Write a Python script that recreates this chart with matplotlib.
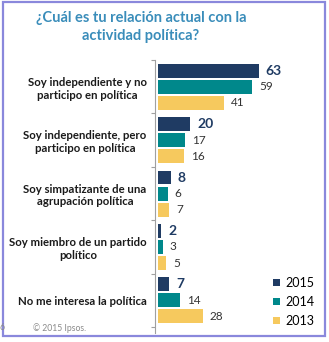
import numpy as np
import matplotlib.pyplot as plt
from matplotlib.patches import Rectangle


# ==========================================================
# DATOS
# ==========================================================

categorias = [
    "Soy independiente y no\nparticipo en política",
    "Soy independiente, pero\nparticipo en política",
    "Soy simpatizante de una\nagrupación política",
    "Soy miembro de un partido\npolítico",
    "No me interesa la política",
]

anios = ["2015", "2014", "2013"]

valores_2015 = [63, 20, 8, 2, 7]
valores_2014 = [59, 17, 6, 3, 14]
valores_2013 = [41, 16, 7, 5, 28]

colores = ["#1f3b63", "#00888b", "#f6c95e"]

titulo = "¿Cuál es tu relación actual con la\nactividad política?"


# ==========================================================
# FIGURA
# ==========================================================

plt.rcParams["font.family"] = ["Lato", "DejaVu Sans"]

fig = plt.figure(figsize=(3.29, 3.42), dpi=100)

ax = fig.add_axes([155 / 329, 9 / 342, 165 / 329, 273 / 342])

y = np.arange(len(categorias))

desplaz = 0.30
alto = 0.26

series = [valores_2015, valores_2014, valores_2013]

barras = []

for k, (vals, col, anio) in enumerate(zip(series, colores, anios)):

    b = ax.barh(
        y + (k - 1) * desplaz,
        vals,
        height=alto,
        color=col,
        label=anio
    )

    barras.append(b)

# etiquetas de valor
ax.bar_label(
    barras[0],
    padding=5,
    fontsize=10,
    fontweight="bold",
    color="#1f3b63"
)

for b in barras[1:]:

    ax.bar_label(
        b,
        padding=5,
        fontsize=8.5,
        color="#333333"
    )

ax.set_xlim(-1.9, 101.2)
ax.set_ylim(4.61, -0.5)

ax.set_yticks(y)
ax.set_yticklabels(
    categorias,
    fontsize=8.2,
    fontweight="bold",
    color="#1a1a1a"
)

for t in ax.get_yticklabels():
    t.set_multialignment("center")

ax.tick_params(axis="y", which="major", length=0, pad=6)

ax.set_yticks(np.arange(-0.5, 5.0, 1.0), minor=True)
ax.tick_params(
    axis="y",
    which="minor",
    length=3,
    color="#a0a0a0",
    width=0.8
)

ax.set_xticks([])

for lado in ["top", "right", "bottom"]:
    ax.spines[lado].set_visible(False)

ax.spines["left"].set_color("#a0a0a0")
ax.spines["left"].set_linewidth(0.8)

# leyenda
ax.legend(
    loc="lower left",
    bbox_to_anchor=(112 / 165, 0.0),
    frameon=False,
    fontsize=9,
    handlelength=0.55,
    handleheight=0.55,
    handletextpad=0.4,
    labelspacing=0.55,
    borderaxespad=0.1
)

# titulo
fig.text(
    141 / 329,
    1 - 27 / 342,
    titulo,
    ha="center",
    va="center",
    fontsize=10.5,
    fontweight="bold",
    color="#3a8dba",
    linespacing=1.35
)

# pie
fig.text(0.0, 1 - 328 / 342, "6", fontsize=6.2, color="#8a8a8a", va="center")
fig.text(
    33 / 329,
    1 - 328 / 342,
    "© 2015 Ipsos.",
    fontsize=6.2,
    color="#8a8a8a",
    va="center"
)

# marco
fig.add_artist(
    Rectangle(
        (2.5 / 329, 6 / 342),
        322.5 / 329,
        334 / 342,
        transform=fig.transFigure,
        fill=False,
        edgecolor="#8a88dc",
        linewidth=1.6
    )
)

fig.savefig("out.png", dpi=100)
